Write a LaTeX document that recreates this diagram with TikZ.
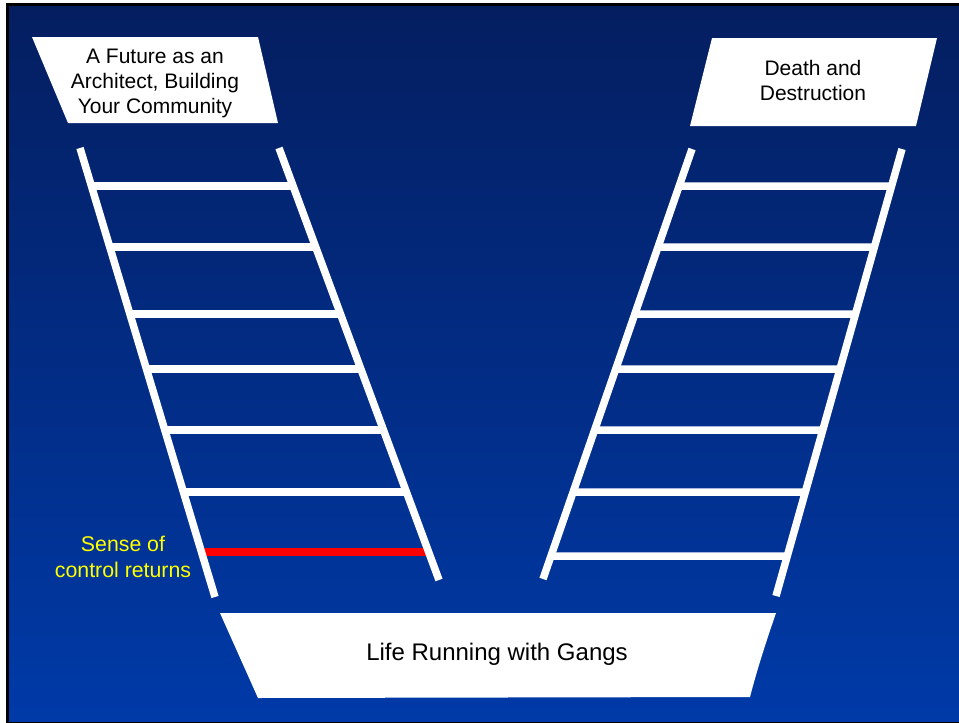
\documentclass[tikz,border=0pt]{standalone}
\usepackage{fontspec}
\setmainfont{Liberation Sans}
\definecolor{bgtop}{RGB}{4,30,96}
\definecolor{bgbot}{RGB}{0,58,168}
\definecolor{ylw}{RGB}{255,255,0}
\begin{document}
\begin{tikzpicture}[x=1pt,y=-1pt,
  rail/.style={white,line width=7.5pt},
  rung/.style={white,line width=7.5pt},
  redrung/.style={red,line width=7.5pt},
  board/.style={fill=white},
  lbl/.style={align=center,text=black,inner sep=0pt},
  big/.style={font=\fontsize{21}{25}\selectfont},
  huge/.style={font=\fontsize{24}{28}\selectfont},
  side/.style={align=center,text=ylw,inner sep=0pt,font=\fontsize{21.3}{25.5}\selectfont}]
\useasboundingbox (0,0) rectangle (959,723);
\fill[white] (0,0) rectangle (959,723);
\fill[black] (6,3) rectangle (960,724);
\shade[top color=bgtop,bottom color=bgbot] (9,6) rectangle (960,721);

% boards
\fill[board] (32,37) -- (258,37) -- (278,123) -- (68,123) -- cycle;
\node[lbl,big] (future) at (155,83.5) {A Future as an\\Architect, Building\\Your Community};
\fill[board] (712,38) -- (937,38) -- (916,126) -- (690,126) -- cycle;
\node[lbl,big] (death) at (813,80.5) {Death and\\Destruction};
\fill[board] (220,613) -- (776,613) .. controls (765,645) and (757,670) .. (750,697) -- (258,698) -- cycle;
\node[lbl,huge] (gangs) at (497,654) {Life Running with Gangs};

% ladder rails
\coordinate (L1t) at (80,148); \coordinate (L1b) at (215,597);
\coordinate (L2t) at (279,148); \coordinate (L2b) at (439,580);
\coordinate (R1t) at (692,149); \coordinate (R1b) at (543,579);
\coordinate (R2t) at (902,149); \coordinate (R2b) at (776,596);

\foreach \y in {186,247,314,369,430,492}{
  \draw[rung] (intersection of L1t--L1b and 0,\y--10,\y) -- (intersection of L2t--L2b and 0,\y--10,\y);
}
\draw[redrung] (intersection of L1t--L1b and 0,552--10,552) -- (intersection of L2t--L2b and 0,552--10,552);
\foreach \y in {186,247,314,369,430,492,556}{
  \draw[rung] (intersection of R1t--R1b and 0,\y--10,\y) -- (intersection of R2t--R2b and 0,\y--10,\y);
}
\draw[rail] (L1t) -- (L1b);
\draw[rail] (L2t) -- (L2b);
\draw[rail] (R1t) -- (R1b);
\draw[rail] (R2t) -- (R2b);

\node[side] (sense) at (123,557) {Sense of\\control returns};
\end{tikzpicture}
\end{document}
